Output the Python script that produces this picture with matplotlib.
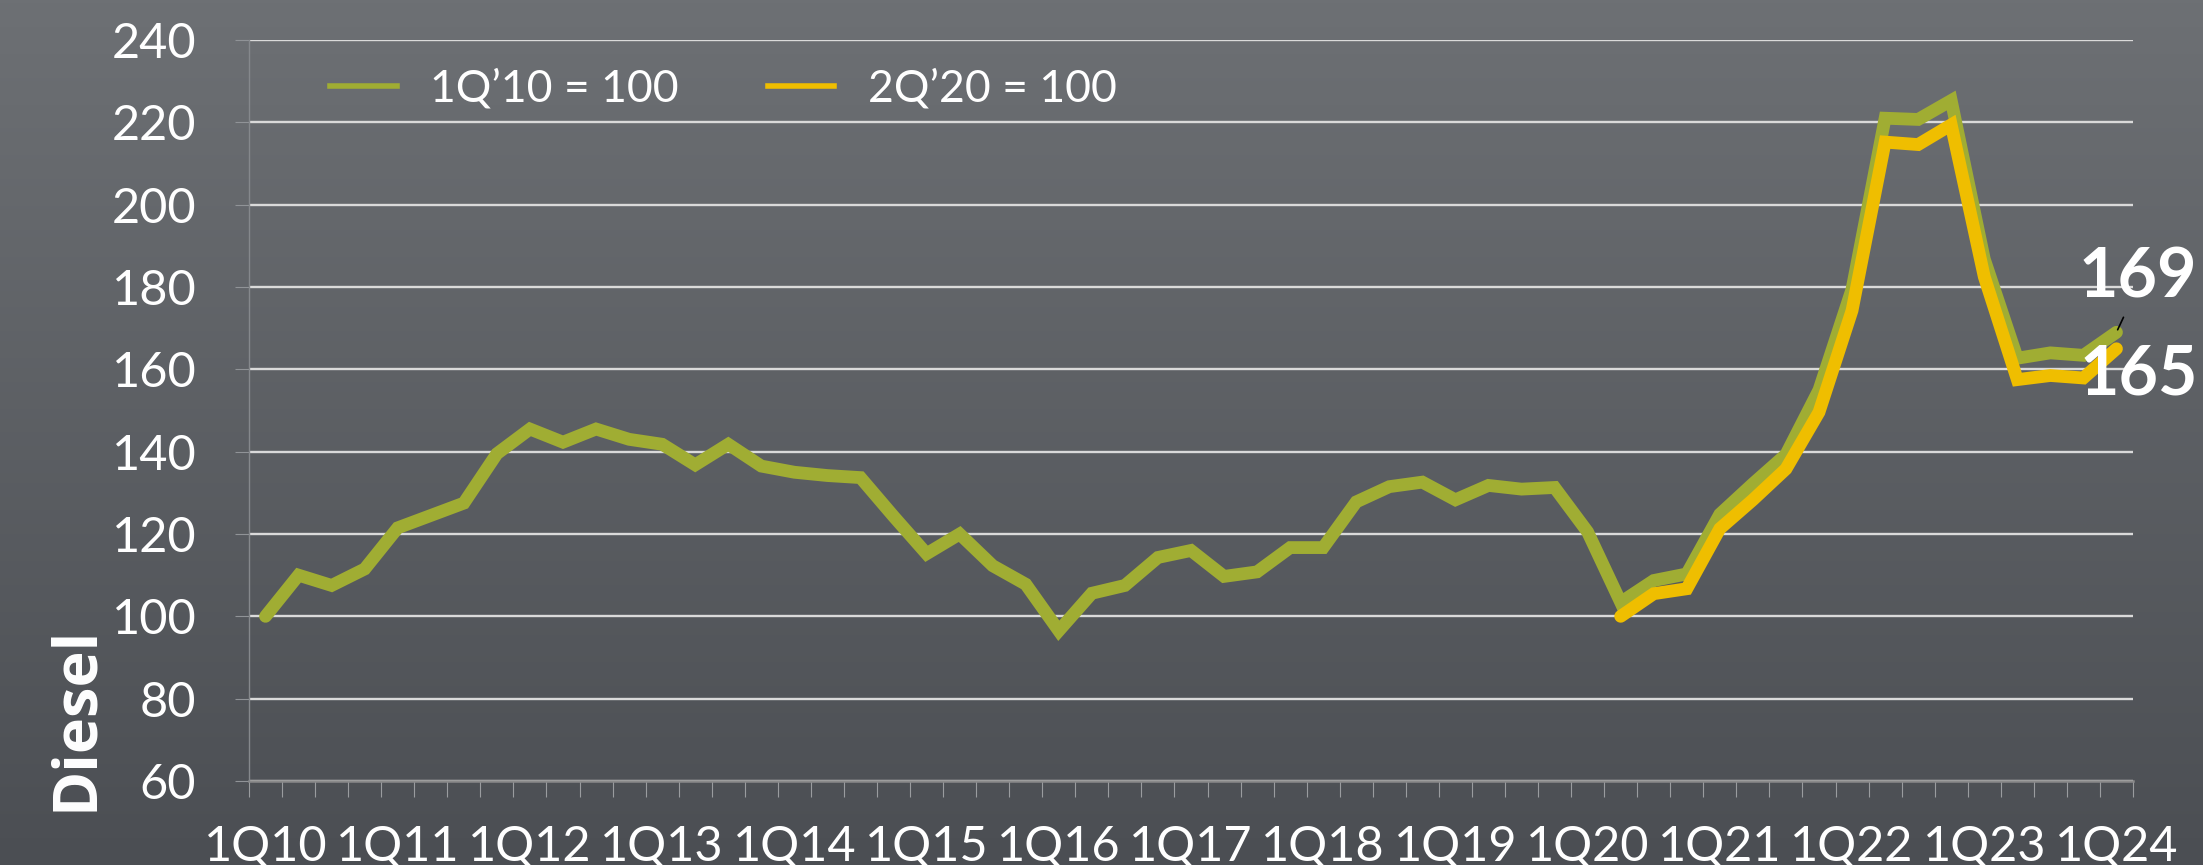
import numpy as np
import matplotlib
matplotlib.use("Agg")
import matplotlib.pyplot as plt
from matplotlib.lines import Line2D
from matplotlib.colors import LinearSegmentedColormap

# ---------------- data ----------------
quarters = [f"{q}Q{y:02d}" for y in range(10, 25) for q in range(1, 5)][:57]
tick_labels = ["1Q10", "1Q11", "1Q12", "1Q13", "1Q14", "1Q15", "1Q16", "1Q17",
               "1Q18", "1Q19", "1Q20", "1Q21", "1Q22", "1Q23", "1Q24"]
y_ticks = [60, 80, 100, 120, 140, 160, 180, 200, 220, 240]

diesel_1q10 = [100, 110, 107.5, 111.5, 121.5, 124.5, 127.5, 139.5,
               145.5, 142.3, 145.5, 143, 141.8, 136.8, 141.8, 136.5,
               135, 134.2, 133.7, 124.3, 115.2, 120, 112.3, 107.8,
               96.5, 105.6, 107.5, 114.3, 116, 109.7, 110.8, 116.7,
               116.7, 127.8, 131.5, 132.6, 128.3, 131.8, 130.9, 131.3,
               120.5, 103.4, 108.7, 110.3, 124.8, 132.2, 139.3, 155,
               179.5, 221, 220.7, 225.3, 186.8, 162.7, 164, 163.4,
               169]
diesel_2q20 = [100, 105.5, 106.7, 121.3, 128.3, 135.8, 149.6,
               174.3, 215.2, 214.6, 219.4, 182.5, 157.5, 158.5, 157.9,
               165]
series_labels = ["1Q\u201910 = 100", "2Q\u201920 = 100"]
end_labels = ["169", "165"]
y_axis_title = "Diesel"

# ---------------- style ----------------
GREEN = "#a0ad33"
YELLOW = "#efbe00"
FONT = "Lato"
TICK_WEIGHT = "normal"

W, H = 2203, 865
fig = plt.figure(figsize=(W / 100, H / 100), dpi=100)

# background gradient
bg = fig.add_axes([0, 0, 1, 1], zorder=-10)
cmap = LinearSegmentedColormap.from_list("bg", ["#6d7074", "#4b4e53"])
bg.imshow(np.linspace(0, 1, 256).reshape(-1, 1), aspect="auto", cmap=cmap,
          extent=[0, 1, 0, 1])
bg.set_axis_off()

left, right, top, bottom = 249, 2133, 40, 781
ax = fig.add_axes([left / W, 1 - bottom / H, (right - left) / W, (bottom - top) / H])
ax.set_facecolor("none")

x_all = np.arange(len(quarters))
start = quarters.index("2Q20")
x_y = np.arange(start, start + len(diesel_2q20))

ax.plot(x_all, diesel_1q10, color=GREEN, lw=9.2, solid_capstyle="round",
        solid_joinstyle="miter", zorder=3)
ax.plot(x_y, diesel_2q20, color=YELLOW, lw=9.2, solid_capstyle="round",
        solid_joinstyle="miter", zorder=4)

ax.set_xlim(-0.5, len(quarters) - 0.5)
ax.set_ylim(60, 240)

# grid
ax.set_yticks(y_ticks)
ax.yaxis.grid(True, color="#dadada", lw=1.7, zorder=1)
ax.set_axisbelow(True)

for s in ["top", "right"]:
    ax.spines[s].set_visible(False)
ax.spines["left"].set_color("#85888c")
ax.spines["left"].set_linewidth(1.0)
ax.spines["bottom"].set_color("#8a8a8a")
ax.spines["bottom"].set_linewidth(1.8)
ax.spines["bottom"].set_zorder(2)

# x ticks
ax.set_xticks([quarters.index(t) for t in tick_labels])
ax.set_xticklabels(tick_labels)
ax.set_xticks(np.arange(-0.5, len(quarters), 1), minor=True)
ax.tick_params(axis="x", which="major", length=0, pad=32, labelsize=35,
               labelcolor="white")
ax.tick_params(axis="x", which="minor", length=11.5, width=0.8,
               color="#9a9c9f", direction="out")
ax.tick_params(axis="y", which="major", length=10, width=0.8, color="#909397",
               pad=28, labelsize=35, labelcolor="white")
for lab in ax.get_xticklabels() + ax.get_yticklabels():
    lab.set_fontfamily(FONT)
    lab.set_fontweight(TICK_WEIGHT)

# end labels
last = len(quarters) - 1
ax.annotate(end_labels[0], xy=(last, diesel_1q10[-1]), xytext=(21, 35),
            textcoords="offset pixels", ha="center", va="baseline",
            fontsize=49, fontweight="bold", fontfamily=FONT, color="white",
            zorder=6, annotation_clip=False)
ax.annotate(end_labels[1], xy=(last, diesel_2q20[-1]), xytext=(22, -46),
            textcoords="offset pixels", ha="center", va="baseline",
            fontsize=49, fontweight="bold", fontfamily=FONT, color="white",
            zorder=6, annotation_clip=False)
ax.annotate("", xy=(last, diesel_1q10[-1]), xytext=(7, 15),
            textcoords="offset pixels",
            arrowprops=dict(arrowstyle="-", color="black", lw=1.2,
                            shrinkA=0, shrinkB=2), zorder=7)

# y axis title
fig.text(77 / W, 1 - 718 / H, y_axis_title, rotation=90, ha="center",
         va="center", fontsize=44, fontweight="bold", fontfamily="Open Sans",
         color="white")

# legend
handles = [Line2D([], [], color=GREEN, lw=4), Line2D([], [], color=YELLOW, lw=4)]
fig.legend(handles, series_labels, loc="center left",
           bbox_to_anchor=(330 / W, 1 - 89 / H), ncol=2, frameon=False,
           handlelength=1.5, handletextpad=0.75, columnspacing=2.0,
           borderpad=0, borderaxespad=0, labelcolor="white",
           prop=dict(family=FONT, weight=TICK_WEIGHT, size=32))

fig.savefig("out.png", dpi=100, facecolor=fig.get_facecolor())
